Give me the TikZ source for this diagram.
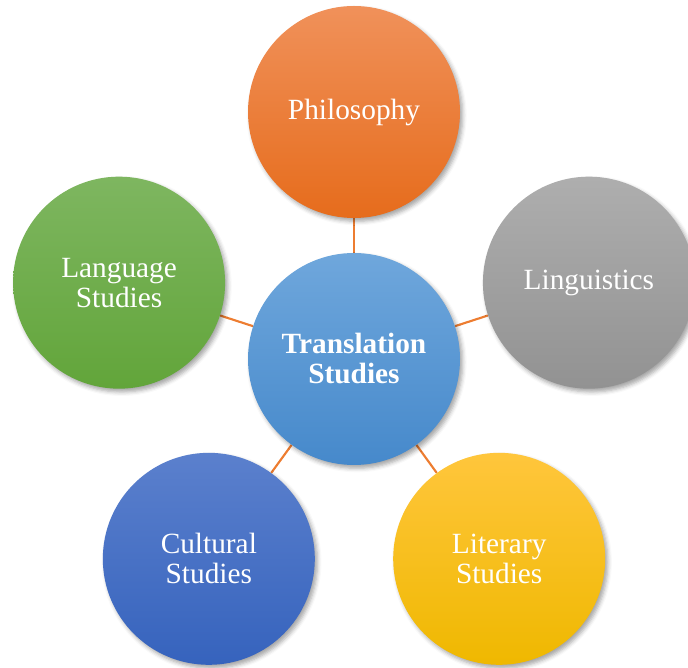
\documentclass[tikz,border=0pt]{standalone}
\usepackage{fontspec}
\setmainfont{Liberation Serif}
\usepackage{tikz}
\usetikzlibrary{shapes.geometric, calc, backgrounds, shadows.blur}
\definecolor{linkorange}{HTML}{ED7D31}
\definecolor{philtop}{HTML}{F0915A}
\definecolor{philbot}{HTML}{E66C1C}
\definecolor{lingtop}{HTML}{AEAEAE}
\definecolor{lingbot}{HTML}{929292}
\definecolor{langtop}{HTML}{7EB660}
\definecolor{langbot}{HTML}{62A53A}
\definecolor{transtop}{HTML}{6FA7DC}
\definecolor{transbot}{HTML}{4689CB}
\definecolor{culttop}{HTML}{5B80CD}
\definecolor{cultbot}{HTML}{3663BD}
\definecolor{littop}{HTML}{FFC63C}
\definecolor{litbot}{HTML}{EFB800}
\tikzstyle{topic} = [circle, minimum size=159pt, inner sep=0pt, align=center, text=white, font=\fontsize{22}{22.5}\selectfont, blur shadow={shadow xshift=2pt, shadow yshift=-2.5pt, shadow blur radius=3pt, shadow opacity=35}]
\tikzstyle{link} = [line width=1.6pt, draw=linkorange]

\begin{document}
\begin{tikzpicture}[x=0.75pt, y=0.75pt]
\clip (0,0) rectangle (688,667);
\node (TS) [topic, top color=transtop, bottom color=transbot, font=\fontsize{22}{22.5}\selectfont\bfseries] at (354,308) {Translation\\Studies};
\node (Phil) [topic, top color=philtop, bottom color=philbot] at ($(TS)+(90:247)$) {Philosophy};
\node (Ling) [topic, top color=lingtop, bottom color=lingbot] at ($(TS)+(18:247)$) {Linguistics};
\node (Lang) [topic, top color=langtop, bottom color=langbot] at ($(TS)+(162:247)$) {Language\\Studies};
\node (Cult) [topic, top color=culttop, bottom color=cultbot] at ($(TS)+(234:247)$) {Cultural\\Studies};
\node (Lit) [topic, top color=littop, bottom color=litbot] at ($(TS)+(306:247)$) {Literary\\Studies};
\begin{scope}[on background layer]
\draw [link] (TS) -- (Phil);
\draw [link] (TS) -- (Ling);
\draw [link] (TS) -- (Lang);
\draw [link] (TS) -- (Cult);
\draw [link] (TS) -- (Lit);
\end{scope}
\end{tikzpicture}
\end{document}
